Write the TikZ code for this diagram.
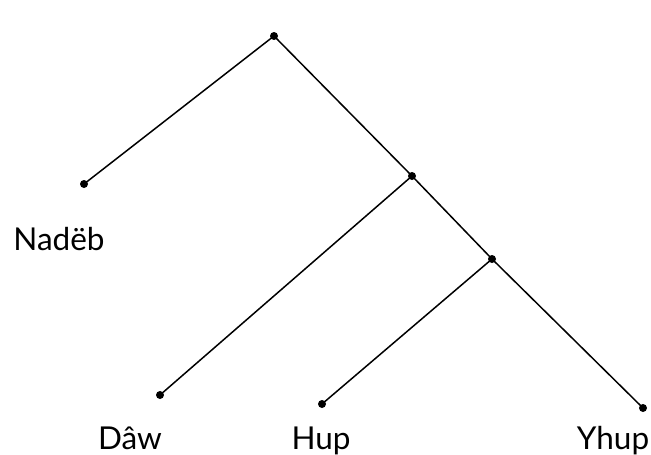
\documentclass[tikz,border=0pt]{standalone}
\usepackage{fontspec}
\setmainfont{Lato}
\tikzset{
    branch/.style={draw=black, line width=1.5pt},
    leaf label/.style={anchor=base, inner sep=0pt, font=\fontsize{31.5}{38}\selectfont},
}
\newcommand{\treedot}[1]{\fill[black] (#1) circle (4pt);}

\begin{document}
\begin{tikzpicture}[x=1pt, y=-1pt]
    \useasboundingbox (0,0) rectangle (651,455);

    % Inner vertices and leaves
    \coordinate (root) at (274,36);
    \coordinate (mid) at (412,176);
    \coordinate (low) at (492,259);
    \coordinate (nadeb) at (84,184);
    \coordinate (daw) at (160,395);
    \coordinate (hup) at (322,404);
    \coordinate (yhup) at (643,408);

    % Branches
    \draw[branch] (root) -- (nadeb);
    \draw[branch] (root) -- (mid) -- (low) -- (yhup);
    \draw[branch] (mid) -- (daw);
    \draw[branch] (low) -- (hup);
    \foreach \v in {root, mid, low, nadeb, daw, hup, yhup} {\treedot{\v}}

    % Language names
    \node[leaf label] (nadeb label) at (59,250) {Nadëb};
    \node[leaf label] (daw label) at (130,449) {Dâw};
    \node[leaf label] (hup label) at (321,449) {Hup};
    \node[leaf label] (yhup label) at (613,449) {Yhup};

\end{tikzpicture}
\end{document}
